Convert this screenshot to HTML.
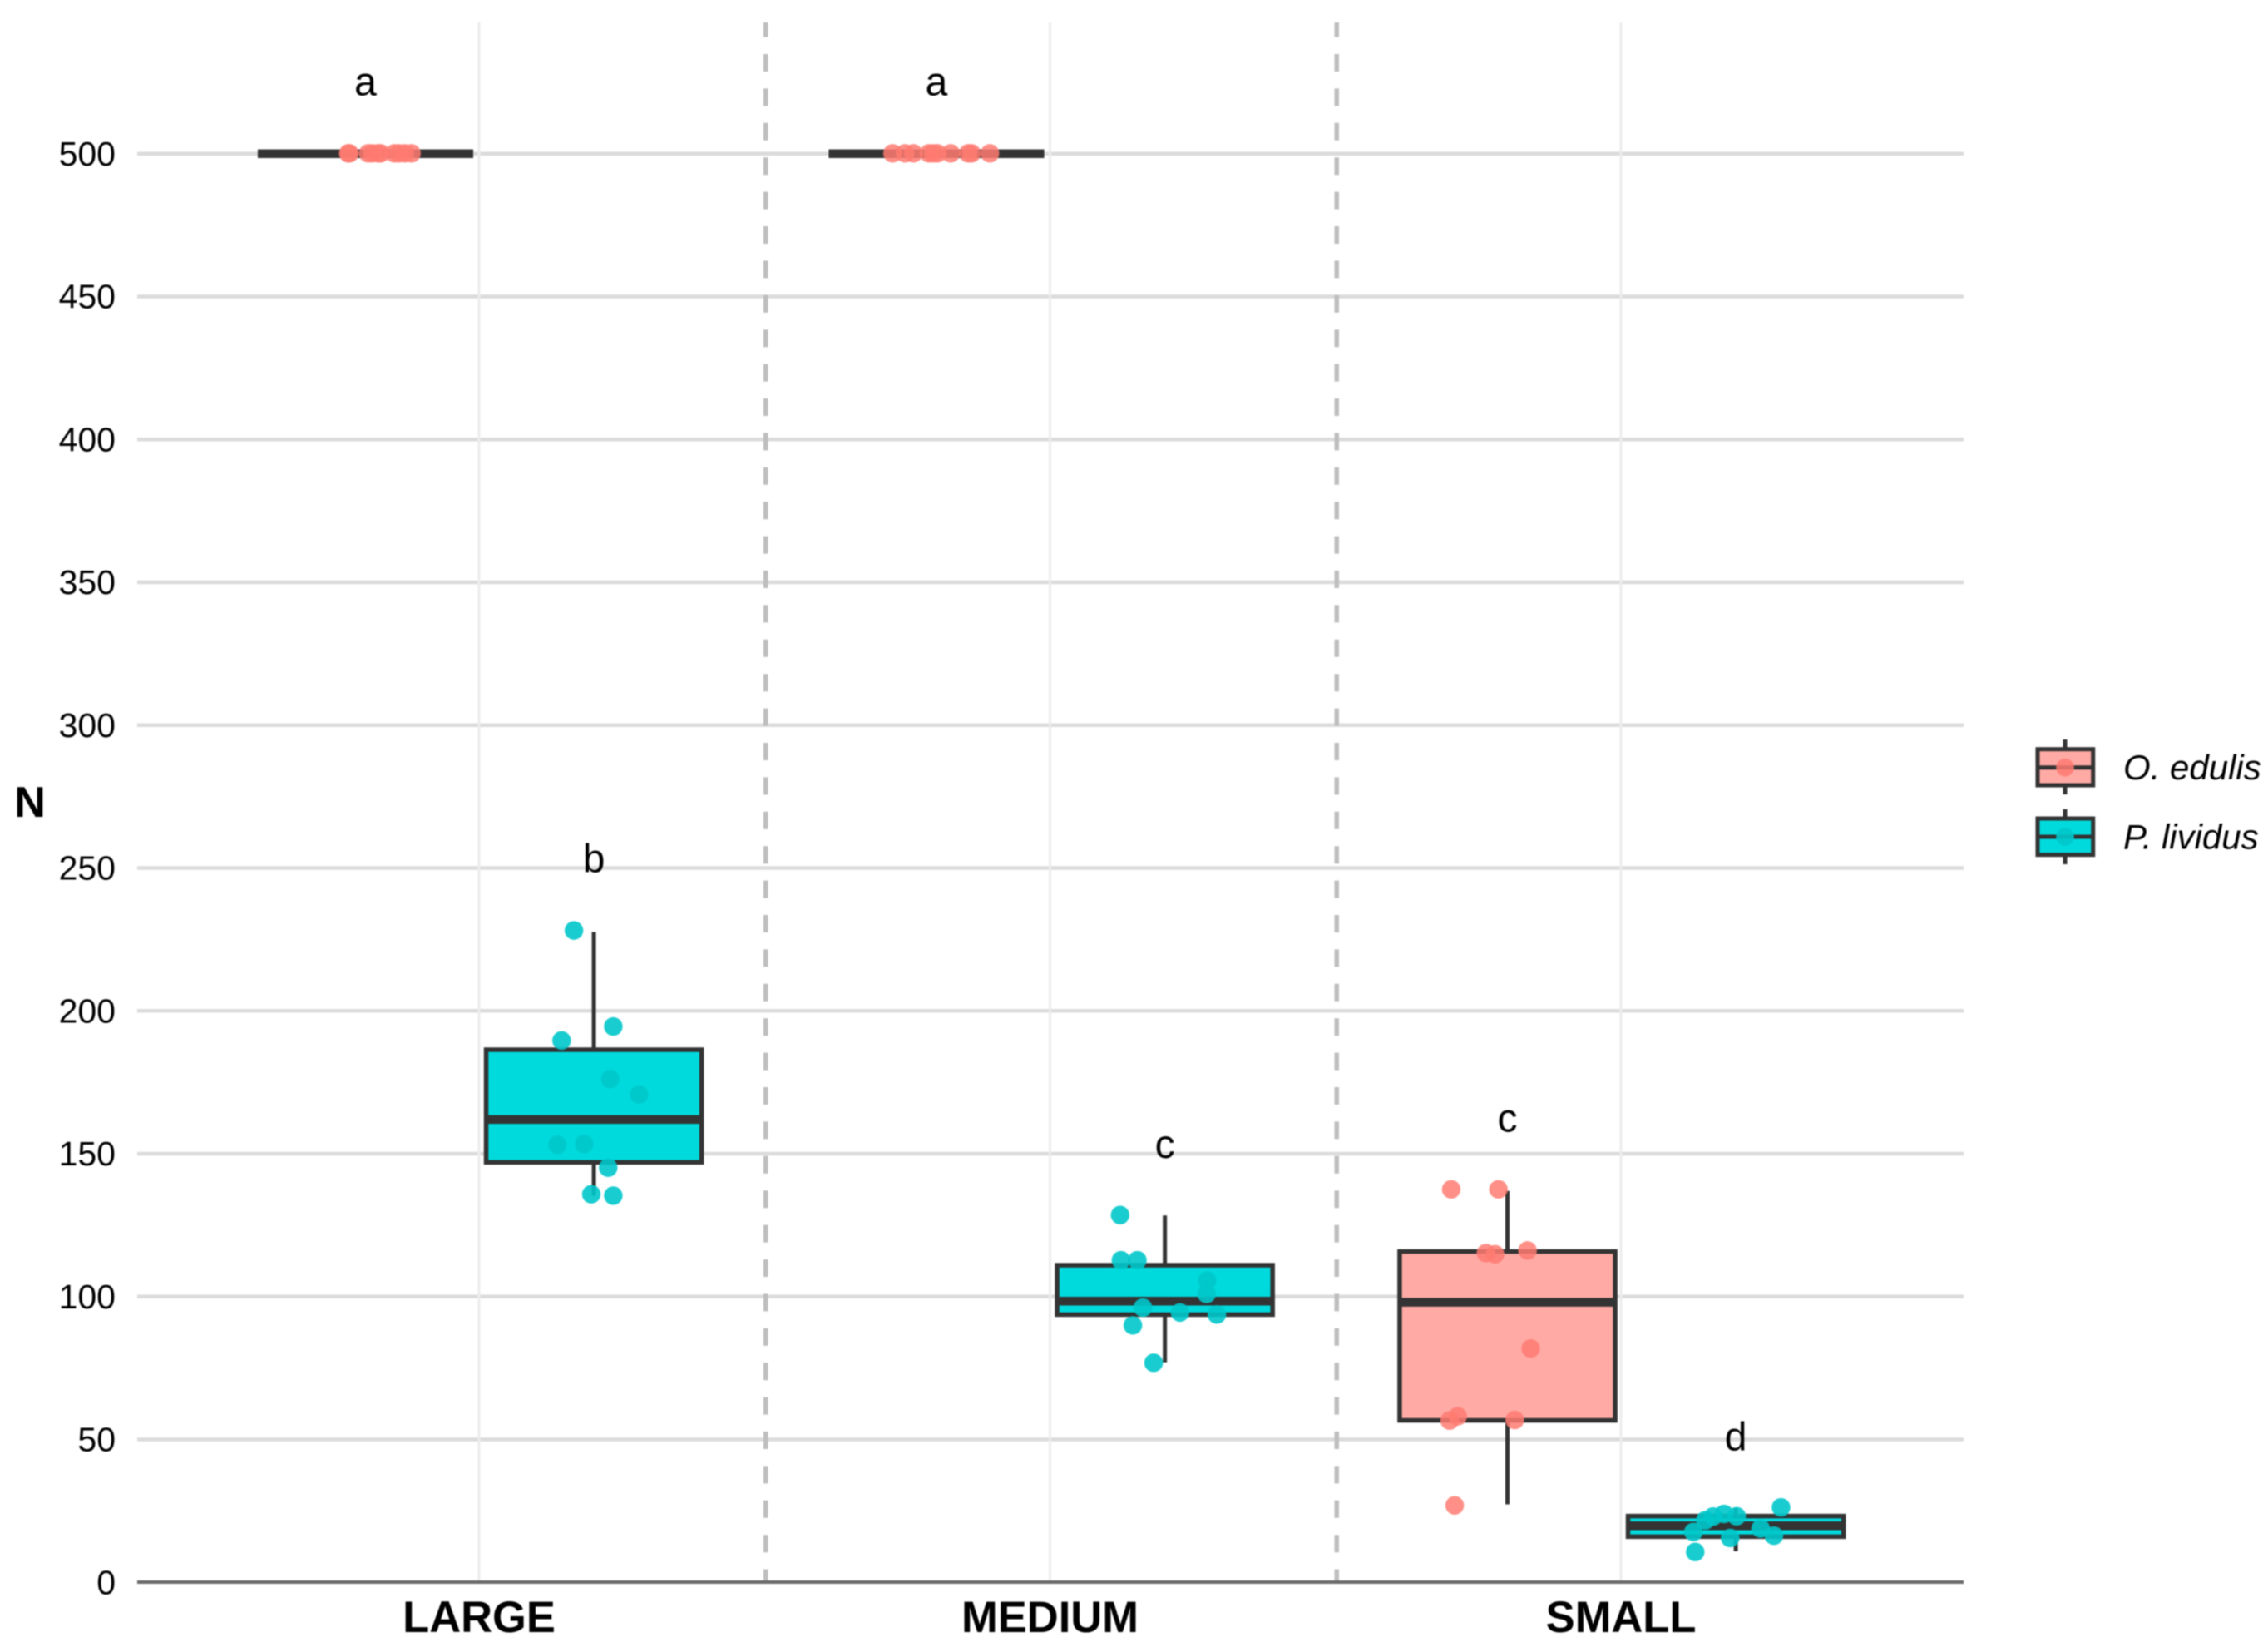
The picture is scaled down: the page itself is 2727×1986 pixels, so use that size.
<!DOCTYPE html>
<html lang="en">
<head>
<meta charset="utf-8">
<title>N by size class boxplot</title>
<style>
html,body{margin:0;padding:0;background:#fff;}
#stage{display:block;width:2727px;height:1986px;filter:blur(0.7px);}
text{font-family:"Liberation Sans",Arial,sans-serif;fill:#000;}
</style>
</head>
<body>
<svg id="stage" xmlns="http://www.w3.org/2000/svg" width="2727" height="1986" viewBox="0 0 2727 1986"></svg>
<script>
// ---- chart data ----
const categories = ['LARGE', 'MEDIUM', 'SMALL'];
const yTicks = [0, 50, 100, 150, 200, 250, 300, 350, 400, 450, 500];
const species = ['O. edulis', 'P. lividus'];
const boxCategory = [0, 0, 1, 1, 2, 2];
const boxSpecies = [0, 1, 0, 1, 0, 1];
const boxQ1 = [500, 147, 500, 93.7, 56.7, 16];
const boxMedian = [500, 162, 500, 98.4, 98, 19.8];
const boxQ3 = [500, 186.4, 500, 111, 115.8, 23.2];
const whiskerLow = [500, 135.3, 500, 77, 27.3, 10.9];
const whiskerHigh = [500, 227.6, 500, 128.4, 137, 26];
const sigLetters = ['a', 'b', 'a', 'c', 'c', 'd'];
const sigLetterValues = [520.5, 248.5, 520.5, 148.5, 157.7, 46.3];
const pointValues = [
  [500, 500, 500, 500, 500, 500, 500, 500, 500, 500],
  [228, 194.4, 189.5, 176, 170.6, 153, 153.3, 145, 135.7, 135.2],
  [500, 500, 500, 500, 500, 500, 500, 500, 500, 500],
  [128.4, 112.6, 112.6, 105.5, 100.8, 96, 94.3, 93.6, 89.8, 76.7],
  [137.4, 137.4, 115.1, 114.7, 116, 81.7, 58, 56.5, 56.7, 26.8],
  [26.1, 23, 23.8, 22.9, 21.6, 17.5, 18.7, 16.2, 15.4, 10.5]
];
const pointJitter = [
  [-0.027, -0.029, 0.0058, 0.0131, 0.0233, 0.0277, 0.0518, 0.0597, 0.0699, 0.0816],
  [-0.0338, 0.0351, -0.0554, 0.0298, 0.0804, -0.0627, -0.016, 0.0262, -0.0033, 0.0351],
  [-0.0757, -0.0539, -0.0393, -0.0121, -0.0044, 0.0029, 0.0262, 0.0568, 0.0626, 0.0947],
  [-0.0772, -0.0757, -0.047, 0.0753, 0.0743, -0.0374, 0.0277, 0.0922, -0.0549, -0.0185],
  [-0.0972, -0.0146, -0.0364, -0.0204, 0.0364, 0.042, -0.0859, -0.1, 0.014, -0.0912],
  [0.0804, 0.0026, -0.0194, -0.0385, -0.0521, -0.073, 0.0447, 0.068, -0.0087, -0.0699]
];

// ---- axis functions ----
const yScale = v => 1902.3 - 3.435 * v;
const xScale = c => 576 + 686.5 * c;
const DODGE = 0.2;
const BOX_W = 0.3775;
const PLOT = { left: 165, right: 2361, top: 27, bottom: 1902 };
const FILLS = ['#FFAAA5', '#00DADD'];
const DOTS = ['#FF7B72', '#00C6CA'];
const DOT_OP = [0.85, 0.9];
const DARK = '#333333';

const svg = document.getElementById('stage');
const NS = 'http://www.w3.org/2000/svg';
function mk(tag, attrs, parent, txt) {
  const e = document.createElementNS(NS, tag);
  for (const k in attrs) e.setAttribute(k, attrs[k]);
  if (txt !== undefined) e.textContent = txt;
  (parent || svg).appendChild(e);
  return e;
}

const bg = mk('rect', { x: 0, y: 0, width: 2727, height: 1986, fill: '#fff' });



// horizontal gridlines + y tick labels
yTicks.forEach(t => {
  if (t !== 0) {
    const g = mk('line', { x1: PLOT.left, x2: PLOT.right, y1: yScale(t), y2: yScale(t), stroke: '#DBDBDB', 'stroke-width': 4.5 });
    
    
  }
  const l = mk('text', { x: 139, y: yScale(t), 'font-size': 41, 'text-anchor': 'end', 'dominant-baseline': 'central', fill: '#111' }, svg, String(t));
  
  
});

// vertical gridlines + category labels
categories.forEach((c, i) => {
  const g = mk('line', { x1: xScale(i), x2: xScale(i), y1: PLOT.top, y2: PLOT.bottom, stroke: '#ECECEC', 'stroke-width': 3 });
  
  
  const l = mk('text', { x: xScale(i), y: 1962, 'font-size': 52.5, 'font-weight': 'bold', 'text-anchor': 'middle' }, svg, c);
  
  
});

// dashed separators between size classes
[0.5, 1.5].forEach((c, i) => {
  const d = mk('line', { x1: xScale(c) + 1.5, x2: xScale(c) + 1.5, y1: PLOT.top, y2: PLOT.bottom, stroke: '#BEBEBE', 'stroke-width': 5.5, 'stroke-dasharray': '21 20.4', 'stroke-dashoffset': 3.4 });
  
  
});

// x axis line
const axis = mk('line', { x1: PLOT.left, x2: PLOT.right, y1: PLOT.bottom, y2: PLOT.bottom, stroke: '#6A6A6A', 'stroke-width': 4 });



// y axis title
const yTitle = mk('text', { x: 36, y: 982, 'font-size': 52, 'font-weight': 'bold', 'text-anchor': 'middle' }, svg, 'N');



// boxes
boxCategory.forEach((cat, b) => {
  const sp = boxSpecies[b];
  const centre = cat + (sp === 0 ? -DODGE : DODGE);
  const cx = xScale(centre) + 0.8;
  const slug = categories[cat].toLowerCase() + '-' + (sp === 0 ? 'o-edulis' : 'p-lividus');

  const whiskTop = mk('line', { x1: cx, x2: cx, y1: yScale(whiskerHigh[b]), y2: yScale(boxQ3[b]), stroke: DARK, 'stroke-width': 5 });
  
  

  const whiskLow = mk('line', { x1: cx, x2: cx, y1: yScale(boxQ1[b]), y2: yScale(whiskerLow[b]), stroke: DARK, 'stroke-width': 5 });
  
  

  const left = xScale(centre - BOX_W / 2) + 0.8;
  const right = xScale(centre + BOX_W / 2) + 0.8;
  const box = mk('rect', { x: left, y: yScale(boxQ3[b]), width: right - left, height: yScale(boxQ1[b]) - yScale(boxQ3[b]), fill: FILLS[sp], stroke: DARK, 'stroke-width': 5.5 });
  
  

  const med = mk('line', { x1: left, x2: right, y1: yScale(boxMedian[b]), y2: yScale(boxMedian[b]), stroke: DARK, 'stroke-width': 10.5 });
  
  

  pointValues[b].forEach((v, p) => {
    const dot = mk('circle', { cx: xScale(centre + pointJitter[b][p]), cy: yScale(v) - 0.5, r: 11.2, fill: DOTS[sp], 'fill-opacity': DOT_OP[sp] });
    
    
  });

  const sig = mk('text', { x: cx, y: yScale(sigLetterValues[b]), 'font-size': 48, 'text-anchor': 'middle' }, svg, sigLetters[b]);
  
  
});

// legend
const legendRows = [
  { top: 900.7, bottom: 944, mid: 922.7, wTop: 889, wBot: 955, base: 937 },
  { top: 984, bottom: 1027.7, mid: 1006, wTop: 972.7, wBot: 1039, base: 1020.5 }
];
species.forEach((s, i) => {
  const r = legendRows[i];
  const slug = s.replace('. ', '-').toLowerCase();
  const g = mk('g', {});
  
  

  const w = mk('line', { x1: 2483, x2: 2483, y1: r.wTop, y2: r.wBot, stroke: DARK, 'stroke-width': 5 }, g);
  
  

  const b = mk('rect', { x: 2450, y: r.top, width: 66.7, height: r.bottom - r.top, fill: FILLS[i], stroke: DARK, 'stroke-width': 5 }, g);
  
  

  const m = mk('line', { x1: 2450, x2: 2516.7, y1: r.mid, y2: r.mid, stroke: DARK, 'stroke-width': 5 }, g);
  
  

  const d = mk('circle', { cx: 2483, cy: r.mid, r: 10.8, fill: DOTS[i], 'fill-opacity': DOT_OP[i] }, g);
  
  

  const t = mk('text', { x: 2553, y: r.base, 'font-size': 42, 'font-style': 'italic', fill: '#111' }, g, s);
  
  
});
</script>
</body>
</html>
